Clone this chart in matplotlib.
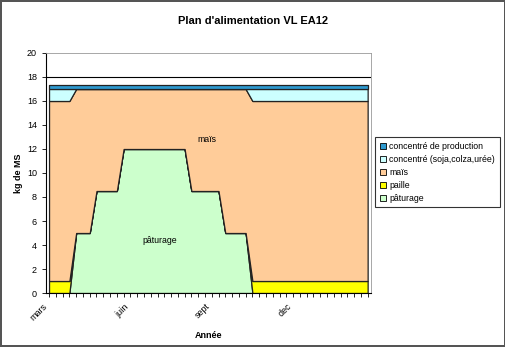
import matplotlib
matplotlib.use('Agg')
import matplotlib.pyplot as plt
from matplotlib.patches import Patch
import numpy as np

plt.rcParams['font.family'] = ['Liberation Sans', 'DejaVu Sans']

# 48 points (4 par mois), de mars à février
semaines = np.arange(48)
mois_pos = [0, 12, 24, 36]
mois = ['mars', 'juin', 'sept', 'dec']

paturage = [0, 0, 0, 0, 5, 5, 5, 8.5, 8.5, 8.5, 8.5, 12, 12, 12, 12, 12,
            12, 12, 12, 12, 12, 8.5, 8.5, 8.5, 8.5, 8.5, 5, 5, 5, 5, 0, 0,
            0, 0, 0, 0, 0, 0, 0, 0, 0, 0, 0, 0, 0, 0, 0, 0]
paille = [1, 1, 1, 1, 0, 0, 0, 0, 0, 0, 0, 0, 0, 0, 0, 0,
          0, 0, 0, 0, 0, 0, 0, 0, 0, 0, 0, 0, 0, 0, 1, 1,
          1, 1, 1, 1, 1, 1, 1, 1, 1, 1, 1, 1, 1, 1, 1, 1]
mais = [15, 15, 15, 15, 12, 12, 12, 8.5, 8.5, 8.5, 8.5, 5, 5, 5, 5, 5,
        5, 5, 5, 5, 5, 8.5, 8.5, 8.5, 8.5, 8.5, 12, 12, 12, 12, 15, 15,
        15, 15, 15, 15, 15, 15, 15, 15, 15, 15, 15, 15, 15, 15, 15, 15]
conc_soja = [1, 1, 1, 1, 0, 0, 0, 0, 0, 0, 0, 0, 0, 0, 0, 0,
             0, 0, 0, 0, 0, 0, 0, 0, 0, 0, 0, 0, 0, 0, 1, 1,
             1, 1, 1, 1, 1, 1, 1, 1, 1, 1, 1, 1, 1, 1, 1, 1]
conc_prod = [0.3] * 48

noms = ['pâturage', 'paille', 'maïs', 'concentré (soja,colza,urée)',
        'concentré de production']
couleurs = ['#CCFFCC', '#FFFF00', '#FFCC99', '#CCFFFF', '#2E9AD0']

fig = plt.figure(figsize=(5.06, 3.47), dpi=100)
fig.patch.set_edgecolor('#555555')
fig.patch.set_linewidth(1.5)
ax = fig.add_axes([0.0909, 0.1556, 0.6417, 0.6917])

ax.stackplot(semaines, paturage, paille, mais, conc_soja, conc_prod,
             colors=couleurs, edgecolor='#222222', linewidth=0.9)
ax.axhline(18, color='black', linewidth=0.8)

ax.set_xlim(-0.45, 47.45)
ax.set_ylim(0, 20)
ax.set_yticks(range(0, 21, 2))
ax.set_xticks(mois_pos)
ax.set_xticklabels(mois, rotation=45, ha='right', fontsize=6.5)
ax.set_xticks(semaines, minor=True)
ax.tick_params(axis='x', which='both', direction='out', length=3, width=0.6)
ax.tick_params(axis='y', direction='out', length=3, width=0.6, labelsize=6.5)
for s in ['top', 'right']:
    ax.spines[s].set_color('#999999')
    ax.spines[s].set_linewidth(0.6)
for s in ['left', 'bottom']:
    ax.spines[s].set_linewidth(0.8)

ax.set_ylabel('kg de MS', fontsize=6.5, fontweight='bold', labelpad=3)
ax.set_xlabel('Année', fontsize=6.5, fontweight='bold', labelpad=6)
fig.suptitle("Plan d'alimentation VL EA12", fontsize=8, fontweight='bold',
             x=0.5, y=0.955)

ax.text(23.3, 12.75, 'maïs', fontsize=6.3, ha='center', va='center')
ax.text(16.4, 4.4, 'pâturage', fontsize=6.3, ha='center', va='center')

handles = [Patch(facecolor=c, edgecolor='black', linewidth=0.6)
           for c in couleurs[::-1]]
leg = fig.legend(handles, noms[::-1], loc='upper left',
                 bbox_to_anchor=(0.741, 0.605), fontsize=6.3, frameon=True,
                 fancybox=False, edgecolor='black', handlelength=0.7,
                 handleheight=0.7, handletextpad=0.4, labelspacing=0.45,
                 borderpad=0.55, borderaxespad=0)
leg.get_frame().set_linewidth(0.8)

fig.savefig('out.png', dpi=100)
